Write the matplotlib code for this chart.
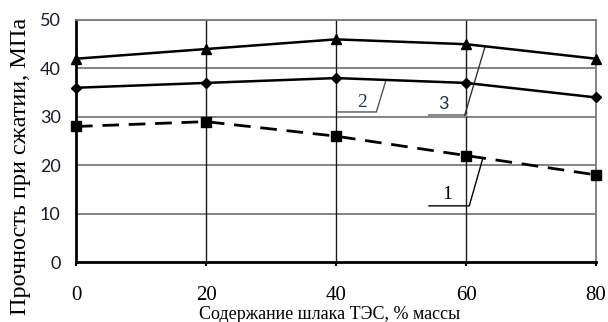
import matplotlib.pyplot as plt

plt.rcParams['font.family'] = ['Liberation Serif', 'DejaVu Serif']

x = [0, 20, 40, 60, 80]
curve1 = [28, 29, 26, 22, 18]   # dashed, squares
curve2 = [36, 37, 38, 37, 34]   # diamonds
curve3 = [42, 44, 46, 45, 42]   # triangles
yticks = [0, 10, 20, 30, 40, 50]

fig = plt.figure(figsize=(6.08, 3.22), dpi=100)
ax = fig.add_axes([0.125, 0.1863, 0.8553, 0.7516])

# grid
for yv in yticks[1:]:
    ax.axhline(yv, color='#7a7a7a', lw=1.3, zorder=1)
for xv in x[1:-1]:
    ax.axvline(xv, color='#1a1a1a', lw=1.0, zorder=1)

ax.plot(x, curve3, color='black', lw=1.8, marker='^', ms=7, zorder=3, clip_on=False)
ax.plot(x, curve2, color='black', lw=1.8, marker='D', ms=5, zorder=3, clip_on=False)
ax.plot(x, curve1, color='black', lw=2.0, marker='s', ms=7, zorder=3,
        dashes=(6, 3.5), clip_on=False)

# leader lines and curve numbers
ax.plot([40.3, 46.2, 47.7], [31, 31, 37.6], color='#555555', lw=1.0, zorder=2)
ax.text(44, 33, '2', fontsize=14, ha='center', va='center', color='#1f2f5a')
ax.plot([54.3, 59.8], [30.3, 30.3], color='#8a8a8a', lw=2.2, zorder=2)
ax.plot([59.8, 62.9], [30.3, 44.4], color='#333333', lw=1.0, zorder=2)
ax.text(56.5, 32.6, '3', fontsize=13, ha='center', va='center', color='#1f2f5a',
        family='Lato')
ax.plot([54.3, 60.5, 62.6], [11.6, 11.6, 21.5], color='black', lw=1.0, zorder=2)
ax.text(57.1, 14.0, '1', fontsize=14, ha='center', va='center', color='black')

ax.set_xlim(0, 80)
ax.set_ylim(0, 50)
ax.set_xticks(x)
ax.set_yticks(yticks)
ax.tick_params(axis='x', length=3, width=1.5, labelsize=15, pad=14)
ax.tick_params(axis='y', length=0, labelsize=13, pad=11, labelcolor='#1a1a2e')
for lbl in ax.get_yticklabels():
    lbl.set_family('Lato')

for s in ['left', 'bottom']:
    ax.spines[s].set_linewidth(2.0)
    ax.spines[s].set_color('black')
for s in ['top', 'right']:
    ax.spines[s].set_linewidth(1.3)
    ax.spines[s].set_color('#7a7a7a')

fig.text(330 / 608, 1 - 306 / 322, 'Содержание шлака ТЭС, % массы', fontsize=13,
         ha='center', va='top')
fig.text(21 / 608, 1 - 166 / 322, 'Прочность при сжатии, МПа', fontsize=17.5,
         rotation=90, ha='center', va='center')

plt.savefig('out.png', dpi=100)
